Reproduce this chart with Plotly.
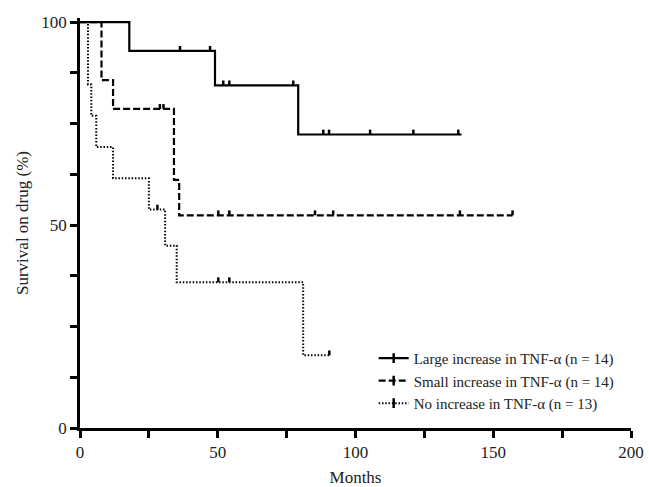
import plotly.graph_objects as go

# ---- data ----
large_t = [0, 17.9, 49, 79.2, 138.5]
large_s = [100, 92.9, 84.4, 72.3, 72.3]
large_cens_t = [36.3, 47.2, 52, 54.2, 77.4, 88.3, 90.4, 105.3, 121, 137.3]
large_cens_s = [92.9, 92.9, 84.4, 84.4, 84.4, 72.3, 72.3, 72.3, 72.3, 72.3]

small_t = [0, 7.8, 12, 34.1, 36, 157]
small_s = [100, 85.7, 78.6, 61.1, 52.4, 52.4]
small_cens_t = [29, 30.3, 50.2, 54.2, 85.3, 91.9, 137.9, 157]
small_cens_s = [78.6, 78.6, 52.4, 52.4, 52.4, 52.4, 52.4, 52.4]

none_t = [0, 2.9, 4.1, 5.9, 12, 25, 30.9, 35.1, 81, 90.5]
none_s = [100, 84.6, 76.9, 69.2, 61.5, 53.8, 44.9, 35.9, 17.9, 17.9]
none_cens_t = [28.1, 50.2, 54.2, 90.5]
none_cens_s = [53.8, 35.9, 35.9, 17.9]

names = ["Large increase in TNF-\u03b1 (n = 14)",
         "Small increase in TNF-\u03b1 (n = 14)",
         "No increase in TNF-\u03b1 (n = 13)"]

x_ticks = [0, 25, 50, 75, 100, 125, 150, 175, 200]
x_labels = ["0", "", "50", "", "100", "", "150", "", "200"]
y_ticks = [0, 12.5, 25, 37.5, 50, 62.5, 75, 87.5, 100]
y_labels = ["0", "", "", "", "50", "", "", "", "100"]

FONT = "Liberation Serif"
TICK_H = 1.2  # censor tick height (% units)

fig = go.Figure()

groups = [
    (large_t, large_s, large_cens_t, large_cens_s, "solid", 2.2),
    (small_t, small_s, small_cens_t, small_cens_s, "7px,3px", 2.2),
    (none_t, none_s, none_cens_t, none_cens_s, "1.5px,1.8px", 2.0),
]

for (t, s, ct, cs, dash, w), name in zip(groups, names):
    fig.add_trace(go.Scatter(x=t, y=s, mode="lines", line=dict(shape="hv", color="black", width=w, dash=dash),
                             showlegend=False, hoverinfo="skip"))
    cx, cy = [], []
    for a, b in zip(ct, cs):
        cx += [a, a, None]
        cy += [b, b + TICK_H, None]
    fig.add_trace(go.Scatter(x=cx, y=cy, mode="lines", line=dict(color="black", width=2.5),
                             showlegend=False, hoverinfo="skip"))
    fig.add_trace(go.Scatter(x=[None], y=[None], mode="lines+markers", name=name,
                             line=dict(color="black", width=w, dash=dash),
                             marker=dict(symbol="line-ns", size=7, line=dict(color="black", width=2.5))))

fig.update_layout(
    width=649, height=487,
    margin=dict(l=80, r=18, t=18, b=59),
    plot_bgcolor="white", paper_bgcolor="white",
    font=dict(family=FONT, size=16, color="#222"),
    showlegend=True,
    legend=dict(x=0.533, y=0.21, xanchor="left", yanchor="top", bgcolor="rgba(0,0,0,0)",
                font=dict(family=FONT, size=15, color="#222"), itemwidth=30, tracegroupgap=0),
    xaxis=dict(range=[0, 200], tickvals=x_ticks, ticktext=x_labels, ticks="outside", ticklen=7,
               tickwidth=2.5, tickcolor="black", showline=True, linecolor="black", linewidth=2.5,
               showgrid=False, zeroline=False, automargin=False,
               tickfont=dict(family=FONT, size=17, color="#222"),
               title=dict(text="Months", font=dict(family=FONT, size=17, color="#222"), standoff=11)),
    yaxis=dict(range=[0, 101], tickvals=y_ticks, ticktext=y_labels, ticks="outside", ticklen=7,
               tickwidth=2.5, tickcolor="black", showline=True, linecolor="black", linewidth=2.5,
               showgrid=False, zeroline=False, automargin=False,
               tickfont=dict(family=FONT, size=17, color="#222"),
               title=dict(text="Survival on drug (%)", font=dict(family=FONT, size=17, color="#222"), standoff=9)),
)

fig.write_html("out.html", config={"displayModeBar": False})

# remove the default 8px body margin of the page
with open("out.html", encoding="utf-8") as f:
    html = f.read()
html = html.replace("<body>", '<body style="margin:0;padding:0;overflow:hidden">', 1)
with open("out.html", "w", encoding="utf-8") as f:
    f.write(html)
